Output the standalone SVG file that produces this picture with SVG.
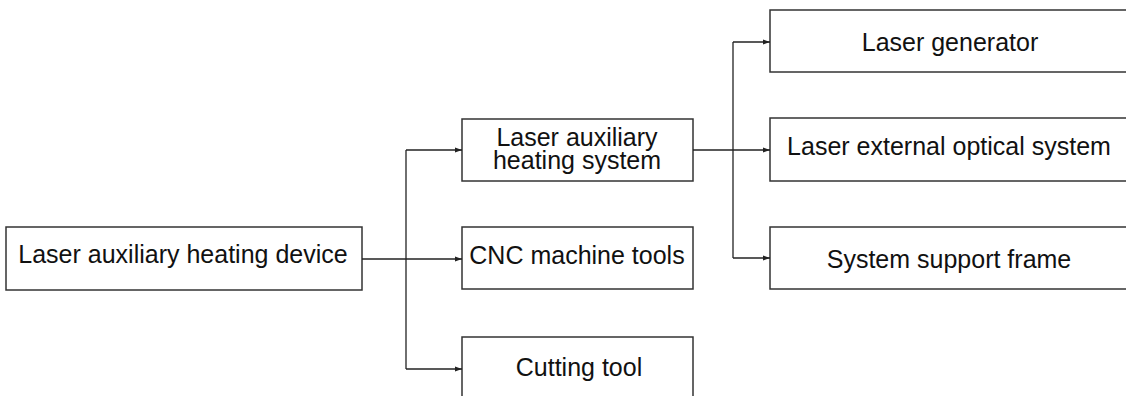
<svg xmlns="http://www.w3.org/2000/svg" width="1126" height="396" viewBox="0 0 1126 396">
<style>
.box{fill:#fff;stroke:#333;stroke-width:1.5}
.lbl{font-family:"Liberation Sans",Arial,sans-serif;font-size:25px;fill:#111;text-anchor:middle}
.ln{fill:none;stroke:#222;stroke-width:1.3}
.ar{fill:none;stroke:#222;stroke-width:1.3;marker-end:url(#ah)}
</style>
<defs>
<marker id="ah" markerWidth="8" markerHeight="6" refX="7" refY="3" orient="auto" markerUnits="userSpaceOnUse">
<path d="M0,0.5 L7,3 L0,5.5 Z" fill="#222"/>
</marker>
</defs>
<rect width="1126" height="396" fill="#fff"/>
<g id="n-device"><rect class="box" x="6" y="227" width="356" height="63"/><text class="lbl" x="183" y="263">Laser auxiliary heating device</text></g>
<g id="n-lahs"><rect class="box" x="462" y="119" width="231" height="62"/><text class="lbl" x="577" y="146"><tspan x="577" y="146">Laser auxiliary</tspan><tspan x="577" y="169">heating system</tspan></text></g>
<g id="n-cnc"><rect class="box" x="462" y="227" width="231" height="62"/><text class="lbl" x="577" y="264">CNC machine tools</text></g>
<g id="n-cut"><rect class="box" x="462" y="337" width="231" height="70"/><text class="lbl" x="579" y="376">Cutting tool</text></g>
<g id="n-gen"><rect class="box" x="770" y="10" width="370" height="62"/><text class="lbl" x="950" y="51">Laser generator</text></g>
<g id="n-opt"><rect class="box" x="770" y="118" width="370" height="63"/><text class="lbl" x="949" y="155">Laser external optical system</text></g>
<g id="n-frame"><rect class="box" x="770" y="227" width="370" height="62"/><text class="lbl" x="949" y="268">System support frame</text></g>
<g id="connectors">
<line class="ar" x1="362" y1="259" x2="462" y2="259"/>
<line class="ln" x1="406" y1="150" x2="406" y2="369"/>
<line class="ar" x1="406" y1="150" x2="462" y2="150"/>
<line class="ar" x1="406" y1="369" x2="462" y2="369"/>
<line class="ar" x1="693" y1="150" x2="770" y2="150"/>
<line class="ln" x1="733" y1="42" x2="733" y2="258"/>
<line class="ar" x1="733" y1="42" x2="770" y2="42"/>
<line class="ar" x1="733" y1="258" x2="770" y2="258"/>
</g>
</svg>
